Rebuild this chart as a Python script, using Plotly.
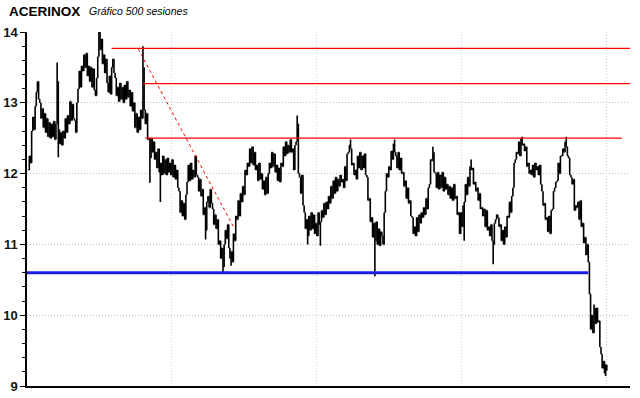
import plotly.graph_objects as go

# ---- data (closing prices, 500 sessions) ----
close = [
    12.05, 12.25, 12.15, 12.60, 12.80, 12.62, 12.95, 13.15, 13.30, 13.05,
    13.00, 12.78, 12.92, 12.65, 12.85, 12.58, 12.78, 12.52, 12.72, 12.50,
    12.70, 12.52, 12.74, 12.48, 12.70, 13.30, 12.62, 12.42, 12.58, 12.40,
    12.60, 12.50, 12.78, 12.58, 12.82, 12.70, 13.02, 12.75, 12.98, 12.78,
    12.75, 12.58, 13.00, 13.20, 13.45, 13.22, 13.52, 13.45, 13.68, 13.50,
    13.70, 13.38, 13.52, 13.30, 13.50, 13.22, 13.48, 13.18, 13.10, 13.35,
    13.65, 14.00, 13.75, 13.90, 13.55, 13.68, 13.42, 13.62, 13.28, 13.15,
    13.38, 13.12, 13.50, 13.62, 13.42, 13.35, 13.10, 13.22, 13.02, 13.28,
    13.05, 13.22, 13.00, 13.25, 13.05, 13.30, 13.08, 13.18, 12.95, 13.15,
    12.88, 13.00, 12.65, 12.85, 12.58, 12.80, 12.62, 12.90, 12.78, 13.50,
    12.90, 12.70, 12.85, 12.48, 12.50, 12.22, 12.50, 12.30, 12.45, 12.20,
    12.30, 12.08, 12.35, 12.02, 12.15, 11.98, 12.25, 12.00, 12.20, 11.98,
    12.22, 12.02, 12.15, 11.98, 12.20, 11.95, 12.12, 11.92, 12.05, 11.80,
    11.75, 11.45, 11.62, 11.40, 11.58, 11.35, 11.70, 11.88, 12.12, 11.90,
    12.15, 11.92, 12.05, 11.95, 12.25, 11.98, 11.95, 11.75, 11.92, 11.68,
    11.78, 11.42, 11.52, 11.20, 11.60, 11.68, 11.52, 11.78, 11.58, 11.50,
    11.28, 11.42, 11.22, 11.35, 11.00, 11.05, 10.80, 10.95, 10.68, 11.00,
    11.20, 11.08, 11.28, 10.95, 10.80, 10.90, 10.75, 11.15, 11.05, 11.40,
    11.35, 11.62, 11.40, 11.72, 11.60, 11.82, 11.70, 12.05, 11.98, 12.15,
    12.10, 12.35, 12.15, 12.38, 12.12, 12.30, 12.05, 12.12, 11.90, 12.15,
    11.92, 12.00, 11.78, 11.90, 11.70, 11.95, 11.72, 12.00, 12.15, 12.08,
    12.30, 12.10, 12.28, 12.02, 12.12, 11.90, 12.08, 11.88, 12.15, 12.10,
    12.38, 12.25, 12.45, 12.28, 12.40, 12.30, 12.48, 12.30, 12.35, 12.05,
    12.40, 12.45, 12.70, 12.00, 11.95, 11.72, 11.98, 11.55, 11.45, 11.22,
    11.35, 11.12, 11.40, 11.20, 11.45, 11.22, 11.42, 11.15, 11.30, 11.12,
    11.45, 11.28, 11.32, 11.48, 11.38, 11.58, 11.42, 11.60, 11.50, 11.68,
    11.58, 11.82, 11.65, 11.90, 11.72, 11.95, 11.75, 11.92, 11.82, 11.98,
    11.88, 11.92, 11.80, 12.10, 11.90, 12.28, 12.30, 12.40, 12.35, 12.12,
    12.15, 11.98, 12.05, 11.92, 12.25, 12.08, 12.30, 12.05, 12.25, 12.08,
    12.28, 11.98, 11.95, 11.62, 11.65, 11.32, 11.38, 11.10, 11.30, 11.05,
    11.32, 11.00, 11.22, 10.98, 11.18, 11.12, 11.00, 11.45, 11.75, 12.00,
    11.95, 12.10, 12.05, 12.32, 12.20, 12.42, 12.30, 12.25, 12.08, 12.30,
    12.05, 12.22, 12.00, 12.02, 11.82, 11.90, 11.65, 11.80, 11.58, 11.62,
    11.40, 11.38, 11.15, 11.25, 11.12, 11.38, 11.18, 11.42, 11.30, 11.45,
    11.38, 11.52, 11.42, 11.65, 11.50, 11.80, 11.85, 12.20, 12.18, 12.30,
    12.02, 12.00, 11.80, 12.02, 11.78, 11.98, 11.80, 12.02, 11.75, 11.95,
    11.78, 11.85, 11.70, 11.82, 11.65, 11.80, 11.62, 11.85, 11.65, 11.68,
    11.42, 11.45, 11.15, 11.45, 11.25, 11.55, 11.60, 11.85, 11.70, 11.95,
    11.82, 12.10, 12.05, 12.08, 11.85, 11.88, 11.75, 11.80, 11.62, 11.72,
    11.50, 11.52, 11.40, 11.50, 11.25, 11.48, 11.20, 11.25, 11.12, 11.28,
    11.05, 11.00, 11.30, 11.35, 11.42, 11.38, 11.25, 11.28, 11.05, 11.20,
    11.00, 11.25, 11.10, 11.40, 11.38, 11.60, 11.45, 11.68, 11.80, 12.15,
    12.20, 12.30, 12.28, 12.45, 12.25, 12.50, 12.40, 12.42, 12.32, 12.38,
    12.10, 12.15, 12.00, 12.05, 11.98, 12.12, 11.95, 12.15, 12.05, 12.10,
    11.98, 12.12, 11.85, 11.75, 11.55, 11.58, 11.35, 11.38, 11.18, 11.40,
    11.15, 11.48, 11.50, 11.75, 11.80, 11.88, 11.90, 12.15, 12.00, 12.25,
    12.25, 12.35, 12.30, 12.45, 12.38, 12.25, 12.22, 11.98, 11.95, 11.85,
    11.92, 11.48, 11.55, 11.52, 11.60, 11.35, 11.62, 11.25, 11.30, 11.02,
    11.10, 10.85, 11.00, 10.75, 10.30, 9.80, 10.00, 9.75, 10.10, 9.88,
    10.10, 9.90, 9.92, 9.55, 9.45, 9.25, 9.35, 9.18, 9.30, 9.22,
]

# notable intraday extremes (session index -> price)
wick_high = {25: 13.57, 61: 14.00, 99: 13.80, 232: 12.82, 278: 12.48,
             316: 12.48, 349: 12.38, 382: 12.20, 426: 12.52, 464: 12.52,
             488: 10.15}
wick_low = {26: 12.23, 105: 11.87, 114: 11.60, 153: 11.07, 168: 10.61,
            175: 10.70, 241: 11.00, 252: 10.98, 299: 10.55, 376: 11.05,
            401: 10.72, 498: 9.14}

# support / resistance levels: (price, start session, end session)
red_levels = [(13.77, 72, 519), (13.27, 99, 519), (12.50, 101, 512)]
blue_level = (10.60, -1, 483)
trend_line = [(95, 13.76), (177, 11.25)]

y_ticks = [9, 10, 11, 12, 13, 14]
y_labels = ["9", "10", "11", "12", "13", "14"]
x_grid = [124, 249, 374, 499]

# ---- build OHLC ----
sessions = list(range(len(close)))
opens = [close[0]] + close[:-1]
highs, lows = [], []
for i, (o, c) in enumerate(zip(opens, close)):
    highs.append(max(o, c, wick_high.get(i, c)))
    lows.append(min(o, c, wick_low.get(i, c)))

fig = go.Figure()
fig.add_trace(go.Ohlc(
    x=sessions, open=opens, high=highs, low=lows, close=close,
    increasing=dict(line=dict(color="black", width=1.6)),
    decreasing=dict(line=dict(color="black", width=1.6)),
    tickwidth=0.3, hoverinfo="skip", showlegend=False,
))

shapes = []
for (lvl, x0, x1) in red_levels:
    shapes.append(dict(type="line", xref="x", yref="y", x0=x0, x1=x1,
                       y0=lvl, y1=lvl, line=dict(color="#ff0000", width=1.2)))
lvl, x0, x1 = blue_level
shapes.append(dict(type="line", xref="x", yref="y", x0=x0, x1=x1,
                   y0=lvl, y1=lvl, line=dict(color="#1c1ce6", width=3)))
shapes.append(dict(type="line", xref="x", yref="y",
                   x0=trend_line[0][0], y0=trend_line[0][1],
                   x1=trend_line[1][0], y1=trend_line[1][1],
                   line=dict(color="#ff0000", width=1, dash="dot")))

fig.update_layout(
    width=640, height=398,
    margin=dict(l=27, r=10, t=32, b=12),
    paper_bgcolor="white", plot_bgcolor="white",
    shapes=shapes,
    xaxis=dict(range=[-1, 519], rangeslider=dict(visible=False),
               showticklabels=False, tickvals=x_grid, ticks="",
               showgrid=True, gridcolor="#c4c8d8", griddash="1px,2px", gridwidth=1,
               showline=True, linecolor="black", linewidth=1.5,
               zeroline=False, mirror=False, automargin=False),
    yaxis=dict(range=[9, 14], tickvals=y_ticks,
               ticktext=["<b>%s</b>" % t for t in y_labels],
               ticks="outside", ticklen=5,
               tickcolor="black", tickwidth=1,
               tickfont=dict(family="Liberation Sans", size=13, color="#1a1208"),
               showgrid=True, gridcolor="#c0c0c0", griddash="1px,2px", gridwidth=1,
               showline=True, linecolor="black", linewidth=1.5,
               zeroline=False, automargin=False,
               minor=dict(dtick=0.2, ticks="outside", ticklen=3, tickcolor="black",
                          showgrid=False)),
    annotations=[
        dict(text="<b>ACERINOX</b>", xref="paper", yref="paper",
             x=-0.033, y=1.059, xanchor="left", yanchor="middle", showarrow=False,
             font=dict(family="Liberation Sans", size=13.5, color="black")),
        dict(text="<i>Gráfico 500 sesiones</i>", xref="paper", yref="paper",
             x=0.099, y=1.059, xanchor="left", yanchor="middle", showarrow=False,
             font=dict(family="Liberation Sans", size=10.5, color="black")),
    ],
)

fig.write_html("out.html", config={"displayModeBar": False},
               post_script="document.body.style.margin='0';")
